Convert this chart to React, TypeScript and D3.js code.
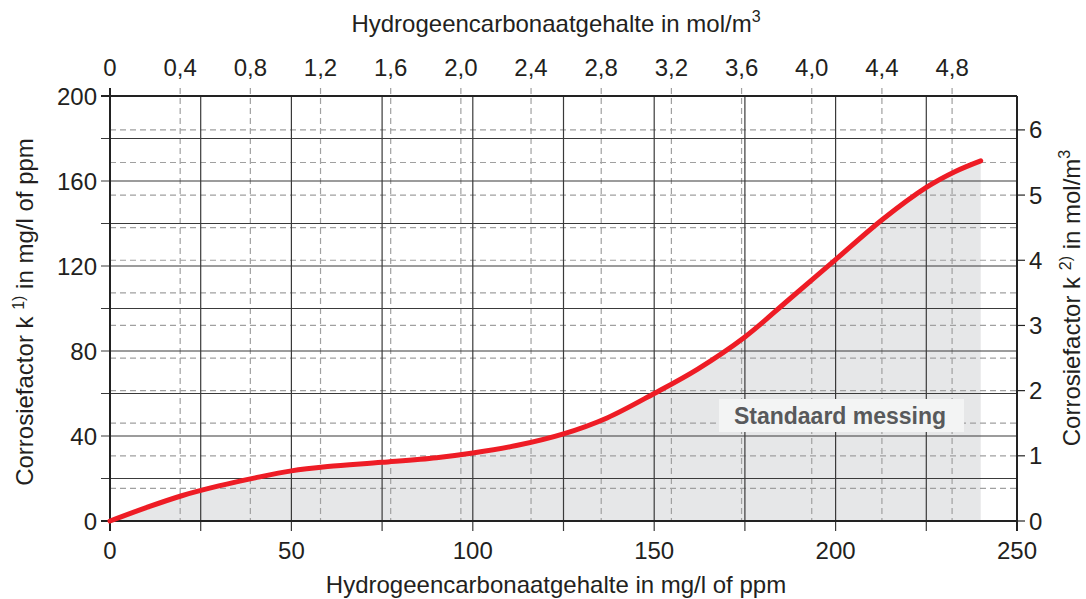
import React from 'react';
import * as d3 from 'd3';

// curve: hydrogen carbonate (mg/l) -> corrosion factor k (mg/l)
const hco3 = [0, 10, 20, 30, 40, 50, 60, 75, 90, 100, 112, 125, 137, 150, 162, 175, 187, 200, 213, 225, 233, 240];
const kValues = [0, 6.3, 12, 16.5, 20.3, 23.6, 25.6, 27.6, 29.8, 32, 35.5, 41, 48.5, 60, 71.5, 86.6, 104, 123, 142, 157, 164.5, 169.5];

const bottomTicks = [0, 50, 100, 150, 200, 250];
const topTicks = [0, 0.4, 0.8, 1.2, 1.6, 2.0, 2.4, 2.8, 3.2, 3.6, 4.0, 4.4, 4.8];
const leftTicks = [0, 40, 80, 120, 160, 200];
const rightTicks = [0, 1, 2, 3, 4, 5, 6];
const solidX = [25, 50, 75, 100, 125, 150, 175, 200, 225];
const solidY = [20, 40, 60, 80, 100, 120, 140, 160, 180];
const dashedRight = [0, 0.5, 1, 1.5, 2, 2.5, 3, 3.5, 4, 4.5, 5, 5.5, 6];

const FONT = '"Liberation Sans", Arial, sans-serif';

export default function App() {
  const W = 1086;
  const H = 599;
  const left = 110, right = 1017, top = 96, bottom = 521;

  const x = d3.scaleLinear().domain([0, 250]).range([left, right]);
  const xTop = d3.scaleLinear().domain([0, 5.17]).range([left, right]);
  const y = d3.scaleLinear().domain([0, 200]).range([bottom, top]);
  const yRight = d3.scaleLinear().domain([0, 6.52]).range([bottom, top]);

  const pts: [number, number][] = hco3.map((v, i) => [v, kValues[i]]);

  const line = d3.line<[number, number]>()
    .x(d => x(d[0]))
    .y(d => y(d[1]))
    .curve(d3.curveCatmullRom.alpha(0.5));

  const area = d3.area<[number, number]>()
    .x(d => x(d[0]))
    .y0(y(0))
    .y1(d => y(d[1]))
    .curve(d3.curveCatmullRom.alpha(0.5));

  const fmt = (v: number) => v === 0 ? '0' : v.toFixed(1).replace('.', ',');

  return (
    <svg width={W} height={H} style={{ position: 'absolute', left: 0, top: 0, background: '#fff' }}
      fontFamily={FONT}>
      {/* shaded region under the curve */}
      <path d={area(pts) || ''} fill="#e6e7e8" />

      {/* dashed grid: top axis (mol/m3) and right axis */}
      {topTicks.slice(1).map(t => (
        <line key={'dv' + t} x1={xTop(t)} x2={xTop(t)} y1={88} y2={bottom}
          stroke="#a0a0a0" strokeWidth={1.2} strokeDasharray="6,4" />
      ))}
      {dashedRight.map(t => (
        <line key={'dh' + t} x1={left} x2={right} y1={yRight(t)} y2={yRight(t)}
          stroke="#a0a0a0" strokeWidth={1.2} strokeDasharray="6,4" />
      ))}

      {/* solid grid */}
      {solidX.map(t => (
        <line key={'sv' + t} x1={x(t)} x2={x(t)} y1={top} y2={531}
          stroke="#3a3a3a" strokeWidth={1.2} />
      ))}
      {solidY.map(t => (
        <line key={'sh' + t} x1={101} x2={right} y1={y(t)} y2={y(t)}
          stroke="#3a3a3a" strokeWidth={1.2} />
      ))}

      {/* frame */}
      <line x1={101} x2={right} y1={top} y2={top} stroke="#222" strokeWidth={2} />
      <line x1={101} x2={right} y1={bottom} y2={bottom} stroke="#222" strokeWidth={2} />
      <line x1={left} x2={left} y1={88} y2={531} stroke="#222" strokeWidth={2} />
      <line x1={right} x2={right} y1={top} y2={531} stroke="#222" strokeWidth={2} />

      {/* right axis ticks */}
      {rightTicks.map(t => (
        <line key={'rt' + t} x1={right} x2={1025} y1={yRight(t)} y2={yRight(t)}
          stroke="#222" strokeWidth={1.2} />
      ))}

      {/* label box */}
      <rect x={719} y={399} width={245} height={33} fill="#f3f4f4" />
      <text x={840} y={424} textAnchor="middle" fontSize={23} fontWeight="bold" fill="#58595b">
        Standaard messing
      </text>

      {/* curve */}
      <path d={line(pts) || ''} fill="none" stroke="#ee1c25" strokeWidth={5} strokeLinecap="round" />

      {/* tick labels */}
      {bottomTicks.map(t => (
        <text key={'bl' + t} x={x(t)} y={559} textAnchor="middle" fontSize={24} fill="#231f20">{t}</text>
      ))}
      {topTicks.map(t => (
        <text key={'tl' + t} x={xTop(t)} y={76} textAnchor="middle" fontSize={24} fill="#231f20">{fmt(t)}</text>
      ))}
      {leftTicks.map(t => (
        <text key={'ll' + t} x={97} y={y(t) + 8.5} textAnchor="end" fontSize={24} fill="#231f20">{t}</text>
      ))}
      {rightTicks.map(t => (
        <text key={'rl' + t} x={1029} y={yRight(t) + 8.5} textAnchor="start" fontSize={24} fill="#231f20">{t}</text>
      ))}

      {/* axis titles */}
      <text x={556} y={32} textAnchor="middle" fontSize={24} fill="#231f20">
        Hydrogeencarbonaatgehalte in mol/m<tspan fontSize={16} dy={-10}>3</tspan>
      </text>
      <text x={556} y={593} textAnchor="middle" fontSize={24} fill="#231f20">
        Hydrogeencarbonaatgehalte in mg/l of ppm
      </text>
      <text transform="translate(33,312) rotate(-90)" textAnchor="middle" fontSize={24} fill="#231f20">
        Corrosiefactor k <tspan fontSize={16} dy={-9}>1)</tspan><tspan dy={9}> in mg/l of ppm</tspan>
      </text>
      <text transform="translate(1080,298) rotate(-90)" textAnchor="middle" fontSize={24} fill="#231f20">
        Corrosiefactor k <tspan fontSize={16} dy={-9}>2)</tspan><tspan dy={9}> in mol/m</tspan><tspan fontSize={16} dy={-10}>3</tspan>
      </text>
    </svg>
  );
}
